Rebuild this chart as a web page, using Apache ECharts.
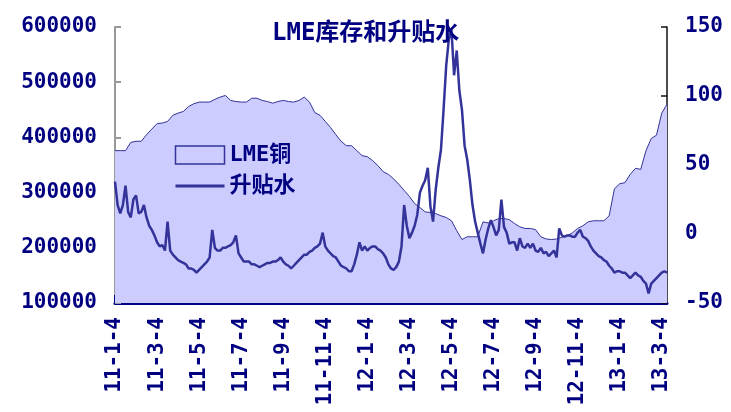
<!DOCTYPE html>
<html>
<head>
<meta charset="utf-8">
<script src="https://cdn.jsdelivr.net/npm/echarts@6/dist/echarts.min.js"></script>
<style>
html,body{margin:0;padding:0;background:#fff;}
#c{width:731px;height:412px;}
</style>
</head>
<body>
<div id="c"></div>
<script>
// Tick labels on the x axis (every two months)
var tickLabels = ['11-1-4','11-3-4','11-5-4','11-7-4','11-9-4','11-11-4','12-1-4','12-3-4','12-5-4','12-7-4','12-9-4','12-11-4','13-1-4','13-3-4'];
// weekly days inside each month
var weekDays = [4, 11, 18, 25];

// LME copper stock (weekly, tonnes)
var lmeStock = [376000,376000,376000,391000,393000,393000,405000,415000,425000,426000,
429000,440000,444000,447000,456000,461000,464000,464000,464000,469000,
473000,476000,467000,465000,464000,464000,471000,471000,467000,465000,
462000,465000,467000,465000,464000,467000,473000,464000,445000,440000,
429000,418000,405000,393000,385000,385000,376000,367000,365000,358000,
349000,338000,333000,325000,315000,304000,293000,280000,273000,265000,
264000,262000,258000,255000,249000,231000,215000,220000,220000,220000,
247000,245000,249000,253000,253000,251000,244000,238000,235000,235000,
233000,220000,216000,215000,216000,219000,222000,227000,235000,240000,
247000,249000,249000,249000,258000,307000,316000,318000,333000,344000,
342000,376000,398000,404000,444000,460000];

// premium / discount (twice weekly, USD)
var spread = [38,21,15,21,35,16,12,25,28,15,
16,21,12,6,3,-1,-6,-9,-8,-12,
9,-12,-15,-17,-19,-20,-21,-22,-25,-25,
-26,-28,-26,-24,-22,-20,-17,3,-10,-12,
-12,-10,-10,-9,-8,-6,-1,-14,-17,-20,
-20,-20,-22,-22,-23,-24,-23,-22,-21,-21,
-20,-20,-19,-17,-20,-22,-23,-25,-23,-21,
-19,-17,-15,-15,-13,-12,-10,-9,-7,1,
-9,-12,-14,-16,-17,-20,-23,-24,-25,-27,
-27,-22,-15,-6,-12,-9,-12,-10,-9,-9,
-11,-12,-14,-17,-22,-25,-26,-24,-20,-9,
21,6,-3,1,6,14,30,35,39,48,
20,9,32,48,61,90,122,141,148,115,
133,104,90,64,54,39,21,9,1,-7,
-14,-4,4,10,5,-1,3,25,5,1,
-7,-6,-6,-12,-3,-9,-10,-7,-10,-7,
-12,-13,-10,-14,-13,-16,-14,-12,-17,4,
-1,-2,-1,-1,-2,-2,1,3,-2,-3,
-5,-9,-12,-14,-16,-17,-19,-20,-23,-25,
-28,-27,-27,-28,-28,-30,-32,-30,-28,-30,
-31,-34,-36,-43,-36,-34,-32,-30,-28,-27,-28];

// build weekly categories
var weekCats = [];
for (var y = 11; y <= 13; y++) {
  for (var m = 1; m <= 12; m++) {
    for (var k = 0; k < weekDays.length; k++) {
      if (weekCats.length < lmeStock.length) weekCats.push(y + '-' + m + '-' + weekDays[k]);
    }
  }
}
var spreadCats = spread.map(function (v, i) { return String(i); });

var NAVY = '#000080';
var LINE = '#333399';
var FILL = '#CCCCFF';
var FONT = 'DejaVu Sans Mono, Noto Sans CJK SC, monospace';
var CJKFONT = 'DejaVu Sans Mono, Noto Sans CJK SC, sans-serif';
var CLEAR = 'rgba(0,0,0,0)';

var chart = echarts.init(document.getElementById('c'), null, {renderer: 'canvas'});
function isTick(idx) { return tickLabels.indexOf(weekCats[idx]) >= 0; }
function plain(v) { return String(v); }

chart.setOption({
  animation: false,
  backgroundColor: '#ffffff',
  title: {
    text: 'LME库存和升贴水',
    left: 272, top: 22, padding: 0,
    textStyle: {fontSize: 24, fontWeight: 'bold', color: NAVY, fontFamily: CJKFONT}
  },
  legend: {
    orient: 'vertical',
    left: 174, top: 144, padding: 0,
    itemWidth: 49, itemHeight: 18, itemGap: 9,
    textStyle: {fontSize: 22, fontWeight: 'bold', color: NAVY, fontFamily: CJKFONT, lineHeight: 22},
    data: [
      {name: 'LME铜', icon: 'rect', itemStyle: {color: FILL, borderColor: LINE, borderWidth: 1.5}},
      {name: '升贴水', itemStyle: {color: CLEAR, borderColor: CLEAR, borderWidth: 0}, lineStyle: {width: 3, color: LINE}}
    ]
  },
  grid: {left: 115, right: 64, top: 27, bottom: 109, containLabel: false},
  xAxis: [{
    type: 'category',
    data: weekCats,
    boundaryGap: false,
    position: 'bottom',
    axisLine: {onZero: false, lineStyle: {color: NAVY, width: 3}},
    axisTick: {inside: true, length: 8, interval: function (i) { return isTick(i); }, lineStyle: {color: NAVY, width: 2}},
    axisLabel: {
      interval: function (i) { return isTick(i); },
      rotate: 90, margin: 14,
      color: NAVY, fontSize: 21, fontWeight: 'bold', fontFamily: FONT
    },
    splitLine: {show: false}
  }, {
    type: 'category',
    data: spreadCats,
    boundaryGap: false,
    position: 'bottom',
    show: false,
    axisLine: {show: false, onZero: false},
    axisTick: {show: false},
    axisLabel: {show: false},
    splitLine: {show: false}
  }],
  yAxis: [{
    type: 'value',
    min: 100000, max: 600000, interval: 100000,
    axisLine: {show: true, lineStyle: {color: '#999999', width: 2}},
    axisTick: {show: true, inside: true, length: 6, lineStyle: {color: '#999999', width: 2}},
    axisLabel: {margin: 18, formatter: plain, color: NAVY, fontSize: 21, fontWeight: 'bold', fontFamily: FONT},
    splitLine: {show: false}
  }, {
    type: 'value',
    min: -50, max: 150, interval: 50,
    position: 'right',
    axisLine: {show: true, lineStyle: {color: '#111111', width: 1.5}},
    axisTick: {show: true, inside: true, length: 6, lineStyle: {color: '#111111', width: 1.5}},
    axisLabel: {margin: 18, formatter: plain, color: NAVY, fontSize: 21, fontWeight: 'bold', fontFamily: FONT},
    splitLine: {show: false}
  }],
  series: [{
    name: 'LME铜',
    type: 'line',
    xAxisIndex: 0, yAxisIndex: 0,
    data: lmeStock,
    symbol: 'none',
    color: LINE,
    lineStyle: {color: LINE, width: 1},
    areaStyle: {color: FILL, opacity: 1, origin: 'start'},
    z: 1
  }, {
    name: '升贴水',
    type: 'line',
    xAxisIndex: 1, yAxisIndex: 1,
    data: spread,
    symbol: 'none',
    color: LINE,
    lineStyle: {color: LINE, width: 2.5},
    z: 3
  }]
});
</script>
</body>
</html>
